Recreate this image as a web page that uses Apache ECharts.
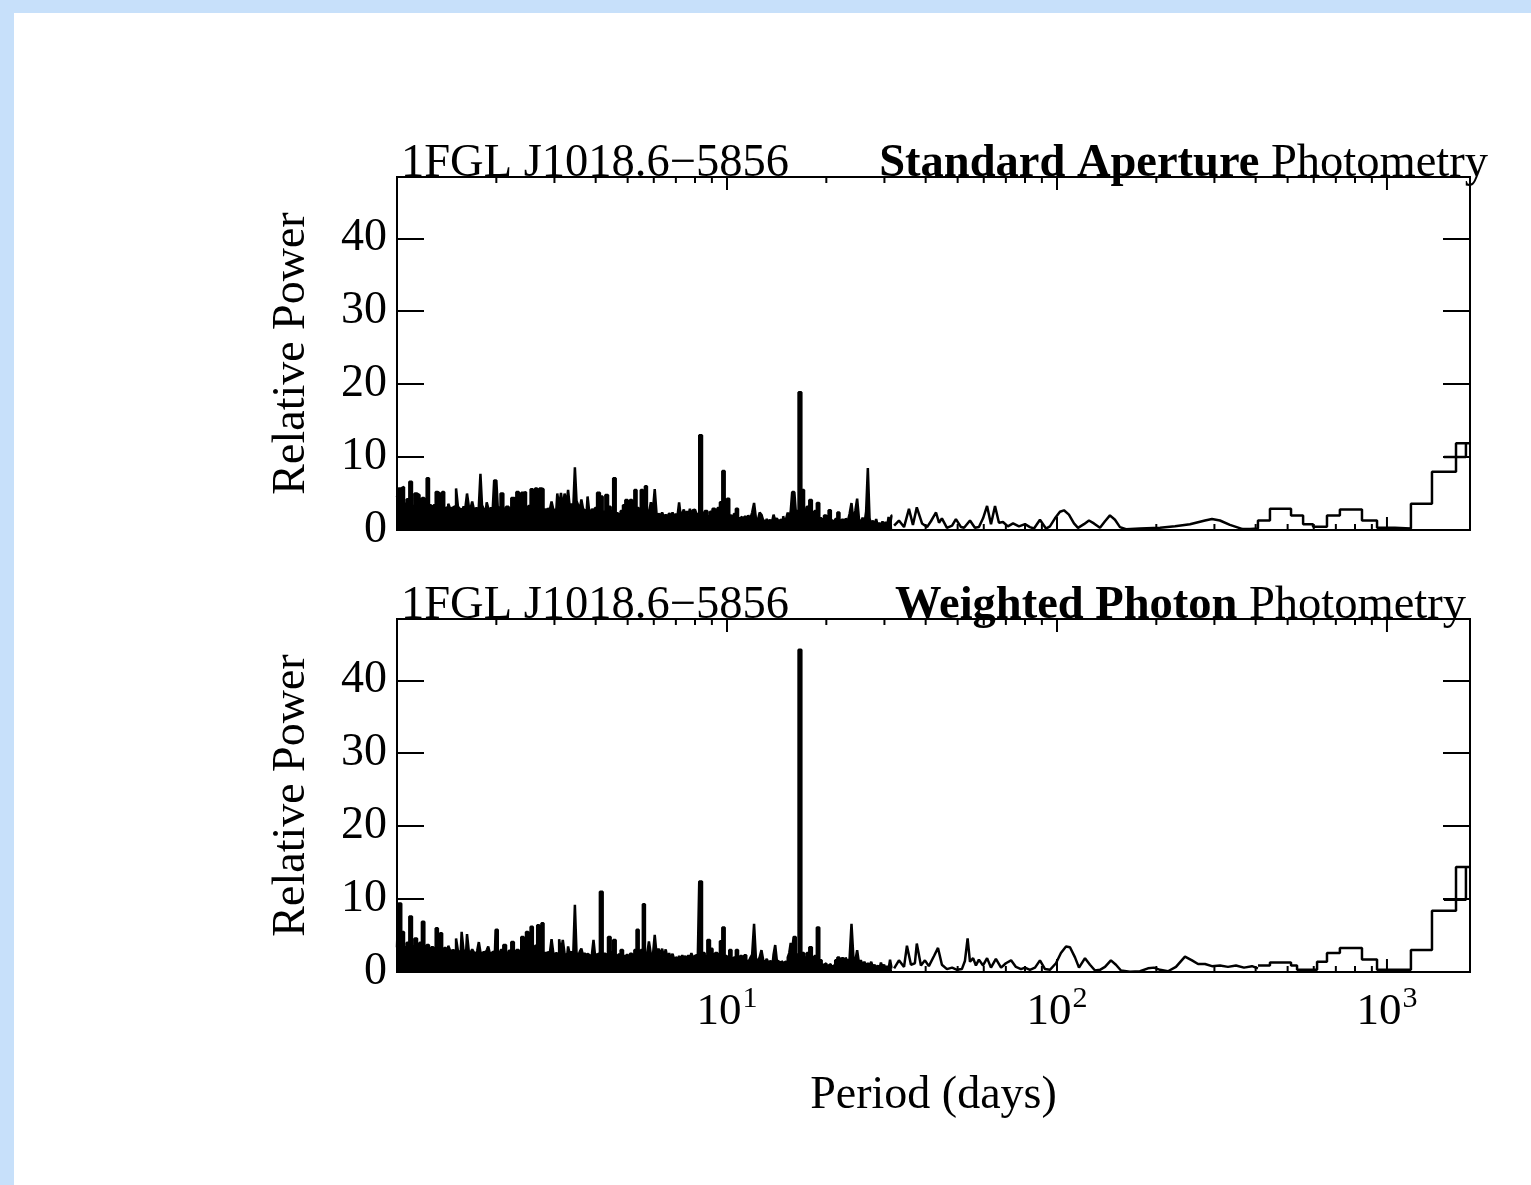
<!DOCTYPE html>
<html>
<head>
<meta charset="utf-8">
<script src="https://cdn.jsdelivr.net/npm/echarts@6/dist/echarts.min.js"></script>
<style>
html,body{margin:0;padding:0;background:#fff;}
#chart{width:1531px;height:1185px;}
</style>
</head>
<body>
<div id="chart"></div>
<script>
// ---------------- DATA ----------------
const sourceName = '1FGL J1018.6\u22125856';
const panelTitles = [['Standard Aperture', ' Photometry'], ['Weighted Photon', ' Photometry']];
const xTickLabels = {10: '1', 100: '2', 1000: '3'};
const xMinorTicks = [2,3,4,5,6,7,8,9,20,30,40,50,60,70,80,90,200,300,400,500,600,700,800,900];
const xMajorTicks = [10,100,1000];

// periods (days) of the densely sampled short-period part of the periodogram
const densePeriods = [
1.00,1.02,1.04,1.06,1.08,1.10,1.12,1.14,1.16,1.18,1.20,1.22,1.24,1.26,1.28,1.30,1.32,1.34,1.36,1.38,1.40,1.42,1.44,1.46,1.48,1.50,1.52,1.54,1.56,1.58,1.60,1.62,1.64,1.66,1.68,1.70,1.72,1.74,1.76,1.78,1.80,1.82,1.84,1.86,1.88,1.90,1.92,1.94,1.96,1.98,
2.00,2.04,2.08,2.12,2.16,2.20,2.24,2.28,2.32,2.36,2.40,2.44,2.48,2.52,2.56,2.60,2.64,2.68,2.72,2.76,2.80,2.84,2.88,2.92,2.96,3.00,3.04,3.08,3.12,3.16,3.20,3.24,3.28,3.32,3.36,3.40,3.44,3.48,3.52,3.56,3.60,3.64,3.68,3.72,3.76,3.80,3.84,3.88,3.92,3.96,
4.00,4.08,4.16,4.24,4.32,4.40,4.48,4.56,4.64,4.72,4.80,4.88,4.96,5.04,5.12,5.20,5.28,5.36,5.44,5.52,5.60,5.68,5.76,5.84,5.92,6.00,6.08,6.16,6.24,6.32,6.40,6.48,6.56,6.64,6.72,6.80,6.88,6.96,7.04,7.12,7.20,7.28,7.36,7.44,7.52,7.60,7.68,7.76,7.84,7.92,
8.00,8.16,8.32,8.48,8.64,8.80,8.96,9.12,9.28,9.44,9.60,9.76,9.92,10.08,10.24,10.40,10.56,10.72,10.88,11.04,11.20,11.36,11.52,11.68,11.84,12.00,12.16,12.32,12.48,12.64,12.80,12.96,13.12,13.28,13.44,13.60,13.76,13.92,14.08,14.24,14.40,14.56,14.72,14.88,15.04,15.20,15.36,15.52,15.68,15.84,
16.00,16.32,16.64,16.96,17.28,17.60,17.92,18.24,18.56,18.88,19.20,19.52,19.84,20.16,20.48,20.80,21.12,21.44,21.76,22.08,22.40,22.72,23.04,23.36,23.68,24.00,24.32,24.64,24.96,25.28,25.60,25.92,26.24,26.56,26.88,27.20,27.52,27.84,28.16,28.48,28.80,29.12,29.44,29.76,30.08,30.40,30.72,31.04,31.36,31.68
];

// Standard aperture photometry: relative power at densePeriods
const stdDense = [
4.5,5.7,5.9,3.6,4.2,6.6,3.3,5.0,4.8,3.1,4.4,3.0,7.1,3.4,3.0,3.4,5.2,5.0,3.2,5.2,3.0,3.2,3.6,2.9,3.1,3.3,5.7,3.2,2.9,2.8,3.2,2.9,5.0,3.3,2.9,3.9,2.8,3.0,2.8,3.2,7.7,3.4,2.9,2.8,3.8,3.0,2.8,3.1,2.8,6.8,
6.8,3.1,5.0,2.9,3.2,2.9,4.4,4.3,5.2,3.1,5.1,5.2,3.0,3.3,5.6,3.1,5.7,3.5,5.7,5.6,2.8,2.7,3.0,2.6,3.9,2.7,2.8,5.0,3.2,5.1,3.0,5.0,3.4,5.5,3.0,3.6,2.9,8.6,4.0,3.4,2.8,4.2,3.0,2.6,2.8,4.6,2.7,2.4,2.9,2.5,
3.0,5.1,4.6,2.5,4.8,3.2,2.6,7.1,2.3,2.0,2.6,3.4,4.1,2.4,4.1,2.6,5.5,3.0,2.5,5.5,3.2,6.0,2.8,2.3,3.8,2.5,5.6,2.1,2.2,1.9,2.4,1.8,2.1,1.8,2.3,1.9,2.4,1.8,2.2,1.9,3.8,1.9,2.3,2.8,1.8,2.6,2.0,2.9,1.9,2.7,
2.8,2.2,13.0,2.3,2.6,1.9,2.5,2.9,1.8,3.0,3.8,8.1,2.4,4.3,2.0,1.7,2.2,2.9,1.6,1.8,1.5,1.8,1.4,2.0,1.5,2.4,3.7,1.6,1.3,2.4,2.1,1.3,1.2,1.5,1.1,1.4,1.0,2.1,1.3,1.6,1.2,1.4,1.3,1.9,1.1,1.6,2.4,1.5,2.6,5.2,
5.2,2.6,18.9,5.5,2.8,3.2,4.1,2.0,2.6,3.7,1.6,1.2,2.0,1.1,2.7,1.3,1.0,1.5,2.4,1.0,1.4,0.8,1.6,1.1,2.2,3.7,1.2,2.6,4.3,1.5,0.9,1.7,0.8,2.5,8.5,1.6,0.7,1.3,0.6,1.5,0.5,1.0,0.4,1.2,0.5,1.1,0.4,1.8,0.6,2.0
];
// [period, power] for the longer periods
const stdHumps = [
[32.1,0.6],[33.2,1.3],[34.4,0.4],[35.6,2.9],[36.6,0.7],[37.6,3.1],[39.0,0.9],[40.4,0.4],[41.5,1.2],[43.0,2.4],[43.9,1.0],[44.8,1.6],[46.4,0.3],[48.1,0.6],[49.4,1.5],[51.2,0.4],[52.3,0.3],[54.5,1.3],[56.4,0.3],[58.0,0.4],[59.7,1.6],[61.4,3.3],[63.1,0.8],[64.9,3.3],[66.7,1.0],[68.6,1.1],[71.0,0.5],[73.6,0.9],[76.7,0.5],[80.0,0.8],[82.8,0.4],[85.2,0.2],[88.8,1.4],[92.6,0.2],[95.2,0.5],[98.6,1.6],[102.1,2.5],[105.0,2.7],[108.7,2.1],[112.6,0.9],[115.8,0.3],[120.7,0.8],[125.0,1.3],[129.4,0.9],[135.0,0.3],[139.8,1.2],[144.7,2.0],[149.9,1.4],[155.2,0.4],[161.9,0.1],[178.5,0.2],[205.2,0.3],[227.9,0.5],[252.9,0.8],[280.9,1.3],[294.9,1.5],[311.8,1.3],[334.3,0.7],[363.6,0.15]
];
const stdSteps = [[363.6,0.15],[385,0.2],[406.5,1.3],[442,2.9],[512,2.0],[557,0.8],[597,0.45],[658,2.0],[720,2.8],[840,1.3],[933,0.3],[1057,0.2],[1182,3.6],[1369,8.0],[1619,11.9],[1785,11.9]];
const stdOverlap = [[1488,10.0],[1735,10.0],[1735,11.9]];

// Weighted photon photometry
const wtdDense = [
3.4,9.4,5.5,3.4,4.0,7.6,3.5,4.6,3.2,4.0,6.9,3.3,3.7,3.1,3.4,3.1,6.0,3.6,5.3,3.0,3.3,2.9,3.6,2.9,3.0,2.8,4.6,2.9,2.7,5.5,3.0,2.8,5.2,2.9,2.6,3.1,2.7,2.5,2.9,4.1,2.7,2.5,2.8,2.5,3.0,3.5,2.6,2.5,2.8,2.6,
5.8,2.7,3.0,3.7,2.6,2.9,4.1,2.7,3.0,2.7,4.8,3.2,5.5,3.0,6.2,3.2,3.6,6.4,3.4,6.7,2.6,2.4,2.8,2.3,4.5,2.4,2.6,2.4,4.5,2.7,4.4,2.5,2.3,3.5,2.4,2.8,2.3,9.2,2.6,2.4,2.8,3.2,2.3,2.6,2.2,2.5,2.3,2.1,2.6,4.4,
2.4,2.6,11.0,2.5,2.3,4.8,2.7,4.4,2.1,2.4,3.0,2.2,2.4,2.1,2.5,2.2,3.0,5.8,2.4,3.0,9.3,2.6,2.2,4.2,2.4,2.1,5.1,2.3,3.2,2.4,3.2,2.0,3.1,1.9,2.6,1.8,2.5,1.7,2.0,1.8,2.2,1.7,2.3,1.9,2.2,1.8,2.3,1.7,2.6,2.0,
2.2,2.4,12.4,2.6,2.2,4.4,3.2,2.0,2.6,1.8,4.2,6.1,2.2,1.8,3.0,1.7,2.0,3.0,1.8,2.2,1.6,2.3,1.4,1.6,1.9,2.4,6.6,1.8,1.5,2.0,3.0,1.6,1.3,1.8,1.2,1.5,1.3,2.4,3.7,1.6,1.4,1.2,1.5,1.2,1.4,1.3,2.0,2.6,4.0,3.0,
4.8,2.4,44.2,2.6,2.0,2.6,3.4,1.8,2.2,6.1,1.6,1.0,1.2,0.9,1.1,0.8,1.0,1.6,2.0,1.5,1.9,1.6,2.0,1.4,1.8,6.6,2.0,1.5,3.0,1.2,1.6,1.0,1.4,0.8,1.2,0.9,1.4,0.6,1.0,0.5,0.9,0.4,1.3,0.6,1.0,0.5,0.8,0.4,1.7,0.6
];
const wtdHumps = [
[32.1,0.5],[33.2,1.6],[34.4,0.7],[35.1,3.6],[36.1,1.0],[37.1,1.2],[37.6,3.9],[38.7,0.9],[39.8,1.6],[40.9,0.8],[42.4,2.2],[43.6,3.3],[44.8,1.0],[46.4,0.4],[48.1,0.6],[49.8,0.3],[51.5,0.4],[52.6,1.5],[53.6,4.6],[54.5,1.4],[55.7,1.9],[56.8,0.9],[58.0,1.7],[59.7,0.9],[61.4,1.9],[63.1,0.6],[65.3,1.8],[67.7,0.6],[70.0,1.2],[72.6,1.6],[75.1,0.7],[77.8,0.4],[80.0,0.6],[82.8,0.3],[85.8,0.6],[88.8,1.6],[92.0,0.4],[95.2,0.3],[99.3,1.2],[102.8,2.6],[106.5,3.5],[109.5,3.4],[113.4,2.0],[116.6,0.6],[121.6,1.9],[125.9,1.0],[130.4,0.2],[135.0,0.3],[139.8,0.7],[145.7,1.6],[150.9,1.0],[156.3,0.2],[166.4,0.05],[178.5,0.1],[188.7,0.5],[196.8,0.6],[205.2,0.3],[217.0,0.1],[229.4,0.7],[244.3,2.1],[256.6,1.6],[267.6,1.1],[280.9,1.1],[294.9,0.8],[311.8,0.9],[329.8,0.7],[348.7,0.9],[368.7,0.6],[389.9,0.8],[406.5,0.5]
];
const wtdSteps = [[406.5,0.9],[442,1.3],[512,0.9],[534,0.3],[614,1.4],[658,2.6],[720,3.3],[840,1.7],[933,0.3],[1182,3.0],[1369,8.4],[1619,14.4],[1785,14.4]];
const wtdOverlap = [[1488,9.9],[1735,9.9],[1735,14.4]];

// ---------------- CHART ----------------
const F = 'Liberation Serif';
const X_MIN = 1, X_MAX = 1785, Y_MAX = 48.4;
const grids = [{top:177}, {top:619}];
const chart = echarts.init(document.getElementById('chart'), null, {renderer:'canvas'});

const txt = {fontFamily:F, color:'#000'};
const titles = [];
grids.forEach((g, k) => {
  titles.push({text: sourceName, left: 396, top: g.top - 42, textStyle: Object.assign({fontSize:46.5, fontWeight:'normal'}, txt)});
  titles.push({text: '{b|' + panelTitles[k][0] + '}' + panelTitles[k][1], right: k === 0 ? 38 : 60, top: g.top - 42,
    textStyle: Object.assign({fontSize:46.5, fontWeight:'normal', rich:{b:Object.assign({fontSize:46.5, fontWeight:'bold'}, txt)}}, txt)});
});

const xAxes = [], yAxes = [], series = [];
const tickData = xMinorTicks.map(v => [v, 0, 0]).concat(xMajorTicks.map(v => [v, 0, 1]));
grids.forEach((g, k) => {
  const bottom = k === 1;
  xAxes.push({
    gridIndex:k, type:'log', logBase:10, min:X_MIN, max:X_MAX,
    axisLine:{show:false}, axisTick:{show:false}, splitLine:{show:false}, minorTick:{show:false},
    axisLabel: bottom ? {
      show:true, margin:12, showMinLabel:false, showMaxLabel:false,
      formatter: v => { const e = xTickLabels[Math.round(v)]; return (e && Math.abs(v - Math.round(v)) < 1e-6) ? '{n|10}{s|' + e + '}' : ''; },
      rich:{ n:Object.assign({fontSize:45}, txt), s:Object.assign({fontSize:30, padding:[0,0,26,1]}, txt) }
    } : {show:false},
    name: bottom ? 'Period (days)' : '', nameLocation:'middle', nameGap:101,
    nameTextStyle: Object.assign({fontSize:46}, txt)
  });
  yAxes.push({
    gridIndex:k, type:'value', min:0, max:Y_MAX, interval:10, position:'left',
    axisLine:{show:false}, splitLine:{show:false},
    axisTick:{show:true, inside:true, length:27, lineStyle:{color:'#000', width:2}},
    axisLabel:{show:true, margin:10, fontSize:46, fontFamily:F, color:'#000', showMaxLabel:false,
      formatter: v => (Math.abs(v % 10) < 1e-6 ? String(v) : '')},
    name:'Relative Power', nameLocation:'middle', nameGap:82, nameRotate:90,
    nameTextStyle:Object.assign({fontSize:46}, txt)
  });
  yAxes.push({
    gridIndex:k, type:'value', min:0, max:Y_MAX, interval:10, position:'right',
    axisLine:{show:false}, splitLine:{show:false}, axisLabel:{show:false},
    axisTick:{show:true, inside:true, length:27, lineStyle:{color:'#000', width:2}}
  });
  const dense = bottom ? wtdDense : stdDense;
  const line = {color:'#000', width:2.5};
  series.push({
    type:'line', xAxisIndex:k, yAxisIndex:2*k, step:'middle', symbol:'none', silent:true,
    data: densePeriods.map((p, i) => [p, dense[i]]),
    lineStyle:{color:'#000', width:2.5}, areaStyle:{color:'#000', opacity:1}
  });
  series.push({type:'line', xAxisIndex:k, yAxisIndex:2*k, symbol:'none', silent:true,
    data: bottom ? wtdHumps : stdHumps, lineStyle:line});
  series.push({type:'line', xAxisIndex:k, yAxisIndex:2*k, step:'end', symbol:'none', silent:true,
    data: bottom ? wtdSteps : stdSteps, lineStyle:line});
  series.push({type:'line', xAxisIndex:k, yAxisIndex:2*k, symbol:'none', silent:true,
    data: bottom ? wtdOverlap : stdOverlap, lineStyle:line});
  series.push({
    type:'custom', xAxisIndex:k, yAxisIndex:2*k, silent:true, clip:false,
    data: tickData,
    renderItem: (params, api) => {
      const p = api.value(0);
      const len = api.value(2) ? 13 : 6;
      const b = api.coord([p, 0]);
      const t = api.coord([p, Y_MAX]);
      const st = {stroke:'#000', lineWidth:2};
      return {type:'group', children:[
        {type:'line', shape:{x1:b[0], y1:b[1], x2:b[0], y2:b[1] - len}, style:st},
        {type:'line', shape:{x1:t[0], y1:t[1], x2:t[0], y2:t[1] + len}, style:st}
      ]};
    }
  });
});

chart.setOption({
  animation:false,
  backgroundColor:'#c7e0fa',
  graphic:[{type:'rect', z:-100, silent:true, shape:{x:14, y:13, width:1517, height:1172}, style:{fill:'#ffffff'}}],
  title: titles,
  grid: grids.map(g => ({left:397, top:g.top, width:1073, height:353, show:true, borderColor:'#000', borderWidth:2, backgroundColor:'rgba(0,0,0,0)'})),
  xAxis: xAxes,
  yAxis: yAxes,
  series: series
});
</script>
</body>
</html>
